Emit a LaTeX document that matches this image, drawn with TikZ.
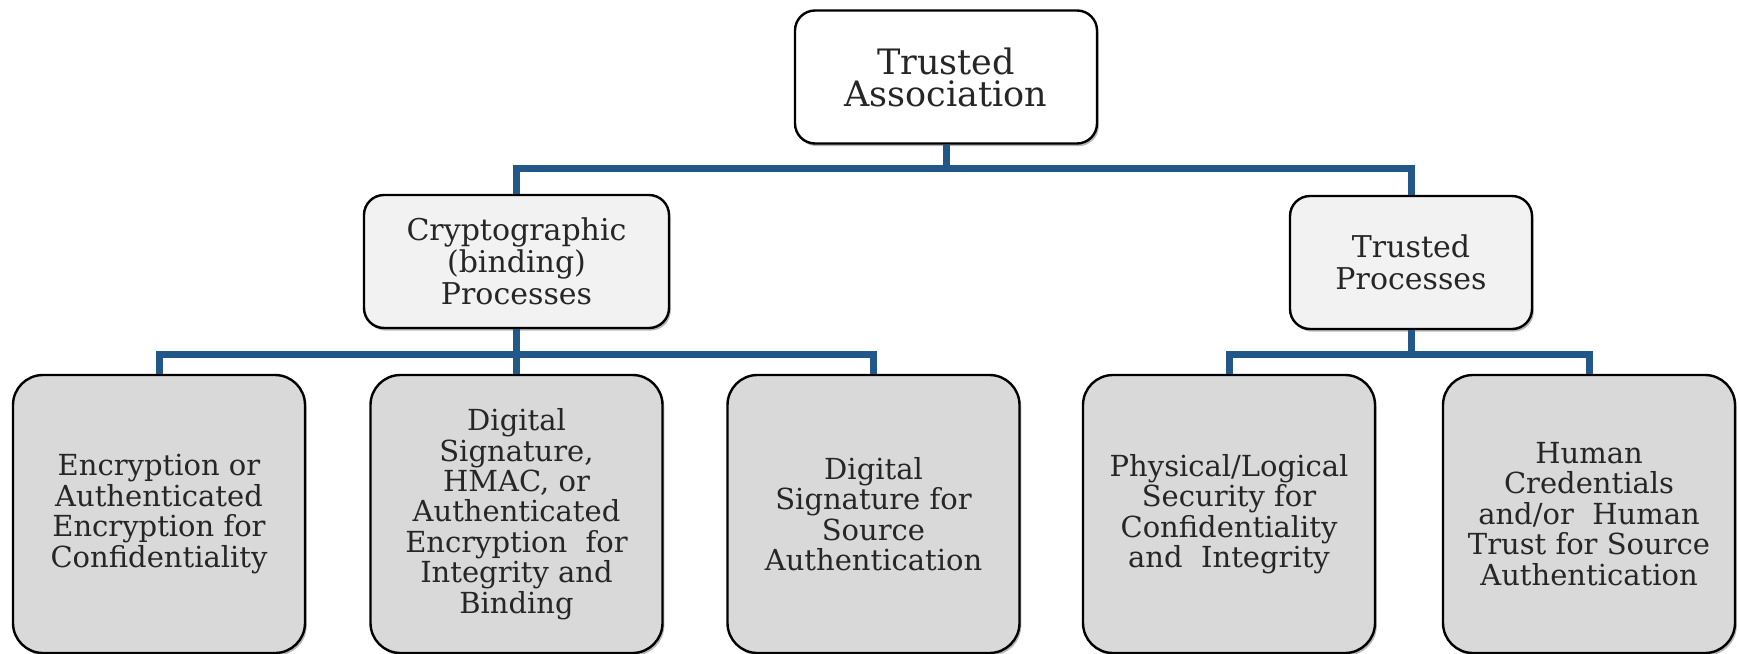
\documentclass[tikz,border=0pt]{standalone}
\usepackage{fontspec}
\setmainfont{DejaVu Serif}
\usepackage{xcolor}
\usepackage{tikz}
\usetikzlibrary{positioning,shadows}
\definecolor{busblue}{HTML}{22578A}
\definecolor{midgrey}{HTML}{F2F2F2}
\definecolor{leafgrey}{HTML}{D9D9D9}
\definecolor{inkgrey}{HTML}{262626}
\tikzset{
  box/.style={draw=black, line width=1.2pt, align=center, inner sep=2pt, text=inkgrey,
    drop shadow={shadow xshift=0.9pt, shadow yshift=-1.3pt, fill=black!40, opacity=0.7}},
  root/.style={box, fill=white, rounded corners=10pt, minimum width=151pt, minimum height=66.5pt,
    font=\fontsize{17.5}{16}\selectfont},
  branch/.style={box, fill=midgrey, rounded corners=10pt, minimum height=66.5pt,
    font=\fontsize{15}{16}\selectfont},
  leaf/.style={box, fill=leafgrey, rounded corners=15pt, minimum width=146pt, minimum height=139pt,
    font=\fontsize{14.5}{15.2}\selectfont},
  bus/.style={draw=busblue, line width=3.5pt},
}

\begin{document}
\begin{tikzpicture}[x=0.5pt, y=-0.5pt]
  \useasboundingbox (0,0) rectangle (1739,653);

  % ---- top of the tree ----
  \node[root] (assoc) at (946,77) {Trusted\\Association};

  % ---- second level ----
  \node[branch, minimum width=152.5pt] (crypto) at (516.5,261.5) {Cryptographic\\(binding)\\Processes};
  \node[branch, minimum width=121pt] (trustp) at (1411,262.5) {Trusted\\Processes};

  % ---- leaves ----
  \node[leaf] (enc) at (159,514) {Encryption or\\Authenticated\\Encryption for\\Confidentiality};
  \node[leaf] (integ) at (516.5,514) {Digital\\Signature,\\HMAC, or\\Authenticated\\Encryption\ \ for\\Integrity and\\Binding};
  \node[leaf] (dsig) at (873.5,514) {Digital\\Signature for\\Source\\Authentication};
  \node[leaf] (phys) at (1229,514) {Physical/Logical\\Security for\\Confidentiality\\and\ \ Integrity};
  \node[leaf] (human) at (1589,514) {Human\\Credentials\\and/or\ \ Human\\Trust for Source\\Authentication};

  % ---- bus lines ----
  \coordinate (bus1) at (0,168);
  \coordinate (bus2) at (0,354);
  \foreach \c in {crypto,trustp}
    \draw[bus] (assoc.south) -- (assoc.south |- bus1) -| (\c.north);
  \foreach \c in {enc,integ,dsig}
    \draw[bus] (crypto.south) -- (crypto.south |- bus2) -| (\c.north);
  \foreach \c in {phys,human}
    \draw[bus] (trustp.south) -- (trustp.south |- bus2) -| (\c.north);
\end{tikzpicture}
\end{document}
